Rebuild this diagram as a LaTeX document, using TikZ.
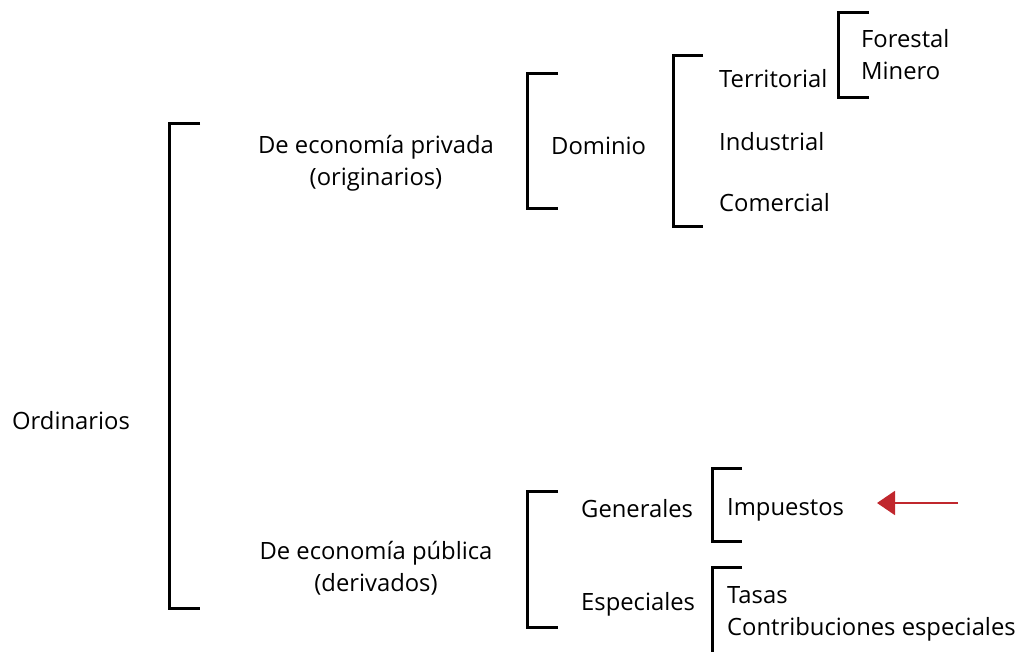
\documentclass[tikz,border=0pt]{standalone}
\usepackage{fontspec}
\setmainfont{Open Sans}
\usetikzlibrary{arrows.meta}
\definecolor{arrowred}{HTML}{C0272D}
\begin{document}
\begin{tikzpicture}[x=1pt,y=-1pt,
  lbl/.style={anchor=base west,inner sep=0pt,font=\fontsize{23.8}{32}\selectfont},
  lblc/.style={anchor=base,inner sep=0pt,align=center,font=\fontsize{23.8}{32}\selectfont},
  brk/.style={line width=3pt,line cap=butt,line join=miter}]
\useasboundingbox (0,0) rectangle (1018,652);
% labels
\node[lbl] (ord) at (12,429) {Ordinarios};
\node[lblc] (priv) at (376,186) {De economía privada\\(originarios)};
\node[lblc] (pub) at (376,591) {De economía pública\\(derivados)};
\node[lbl] (dom) at (551,155) {Dominio};
\node[lbl] (terr) at (719,88) {Territorial};
\node[lbl] (ind) at (719,151) {Industrial};
\node[lbl] (com) at (719,212) {Comercial};
\node[lbl] (for) at (861,48) {Forestal};
\node[lbl] (min) at (861,80) {Minero};
\node[lbl] (gen) at (581,517) {Generales};
\node[lbl] (esp) at (581,610) {Especiales};
\node[lbl] (imp) at (727,515) {Impuestos};
\node[lbl] (tas) at (727,603) {Tasas};
\node[lbl] (con) at (727,635) {Contribuciones especiales};
% brackets
\draw[brk] (200,124) -- (169,124) -- (169,608) -- (200,608);
\draw[brk] (558,74) -- (527,74) -- (527,209) -- (558,209);
\draw[brk] (703,56) -- (673,56) -- (673,227) -- (703,227);
\draw[brk] (869,13) -- (838,13) -- (838,98) -- (869,98);
\draw[brk] (558,491) -- (527,491) -- (527,627) -- (558,627);
\draw[brk] (742,468) -- (712,468) -- (712,541) -- (742,541);
\draw[brk] (742,567) -- (712,567) -- (712,652);
% arrow
\coordinate (atail) at (958,503);
\coordinate (ahead) at (877,503);
\draw[arrowred,line width=2pt,-{Triangle[length=18pt,width=24pt]}] (atail) -- (ahead);
\end{tikzpicture}
\end{document}
